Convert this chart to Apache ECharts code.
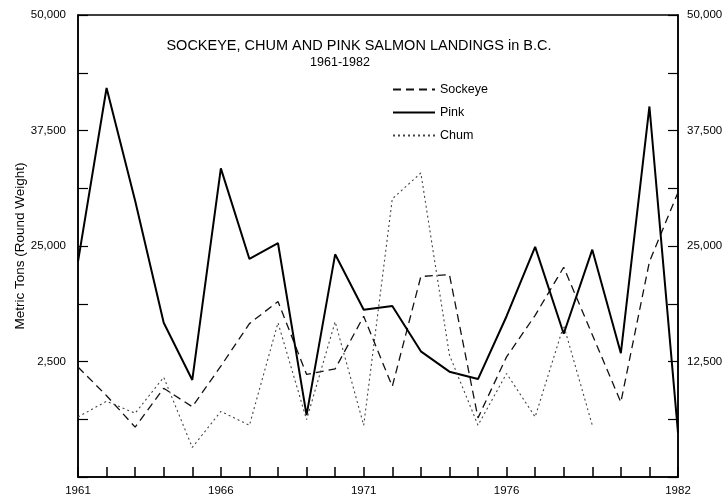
<!DOCTYPE html>
<html><head><meta charset="utf-8">
<script src="https://cdn.jsdelivr.net/npm/echarts@6/dist/echarts.min.js"></script>
<style>html,body{margin:0;padding:0;background:#fff}#c{width:727px;height:498px}</style>
</head><body><div id="c"></div>
<script>
const years = ['1961','1962','1963','1964','1965','1966','1967','1968','1969','1970','1971','1972','1973','1974','1975','1976','1977','1978','1979','1980','1981','1982'];
const shownYears = ['1961','1966','1971','1976','1982'];
const sockeye = [11900, 8800, 5400, 9600, 7600, 12000, 16600, 19000, 11100, 11700, 17400, 9800, 21700, 21900, 6400, 13000, 17500, 22700, 15400, 8100, 23300, 30800];
const pink = [23300, 42100, 29900, 16700, 10500, 33400, 23600, 25300, 6700, 24100, 18100, 18500, 13600, 11400, 10600, 17400, 24900, 15500, 24600, 13400, 40100, 4800];
const chum = [6500, 8200, 6900, 10800, 3200, 7100, 5600, 16700, 6200, 16800, 5600, 30100, 32900, 13200, 5600, 11200, 6500, 16400, 5600, null, null, null];
const leftTickLabels = {50000:'50,000', 37500:'37,500', 25000:'25,000', 12500:'2,500'};
const rightTickLabels = {50000:'50,000', 37500:'37,500', 25000:'25,000', 12500:'12,500'};

const font = 'Liberation Sans, Arial, sans-serif';
const chart = echarts.init(document.getElementById('c'));
const yBase = {
  type:'value', min:0, max:50000, interval:6250,
  splitLine:{show:false},
  axisLine:{show:true, lineStyle:{color:'#000', width:1.5}},
  axisTick:{show:true, inside:true, length:10, lineStyle:{color:'#000', width:1.2}},
};
chart.setOption({
  animation:false,
  backgroundColor:'#fff',
  title:[
    {text:'SOCKEYE, CHUM AND PINK SALMON LANDINGS in B.C.', left:354, top:33, textAlign:'center',
     textStyle:{fontFamily:font, fontSize:14.5, fontWeight:'normal', color:'#000'}},
    {text:'1961-1982', left:335, top:51, textAlign:'center',
     textStyle:{fontFamily:font, fontSize:12.5, fontWeight:'normal', color:'#000'}}
  ],
  legend:{
    orient:'vertical', left:387, top:78, itemWidth:42, itemHeight:12, itemGap:10,
    itemStyle:{opacity:0},
    textStyle:{fontFamily:font, fontSize:12.5, color:'#000'},
    data:['Sockeye','Pink','Chum']
  },
  grid:{left:78, right:49, top:15, bottom:21, show:true, borderColor:'#000', borderWidth:1.5, outerBoundsMode:'none', containLabel:false},
  xAxis:{
    type:'category', data:years, boundaryGap:false,
    axisLine:{lineStyle:{color:'#000', width:1.5}},
    axisTick:{inside:true, length:10, interval:0, lineStyle:{color:'#000', width:1.5}},
    axisLabel:{interval:0, color:'#000', fontFamily:font, fontSize:11.5, margin:8,
      formatter:v => shownYears.includes(v) ? v : ''}
  },
  yAxis:[
    Object.assign({}, yBase, {position:'left', name:'Metric Tons (Round Weight)', nameLocation:'middle', nameGap:51, nameRotate:90,
      nameMoveOverlap:false,
      nameTextStyle:{fontFamily:font, fontSize:13.5, color:'#000'},
      axisLabel:{color:'#000', fontFamily:font, fontSize:11.5, margin:12, formatter:v => leftTickLabels[v] || ''}}),
    Object.assign({}, yBase, {position:'right',
      axisLabel:{color:'#000', fontFamily:font, fontSize:11.5, margin:9, formatter:v => rightTickLabels[v] || ''}})
  ],
  series:[
    {name:'Sockeye', type:'line', data:sockeye, symbol:'none', lineStyle:{color:'#111', width:1.3, type:[8,5]}, itemStyle:{color:'#111'}},
    {name:'Pink', type:'line', data:pink, symbol:'none', lineStyle:{color:'#000', width:2}, itemStyle:{color:'#000'}},
    {name:'Chum', type:'line', data:chum, symbol:'none', connectNulls:false, lineStyle:{color:'#444', width:1.1, type:[2,3]}, itemStyle:{color:'#444'}}
  ]
});
</script></body></html>
